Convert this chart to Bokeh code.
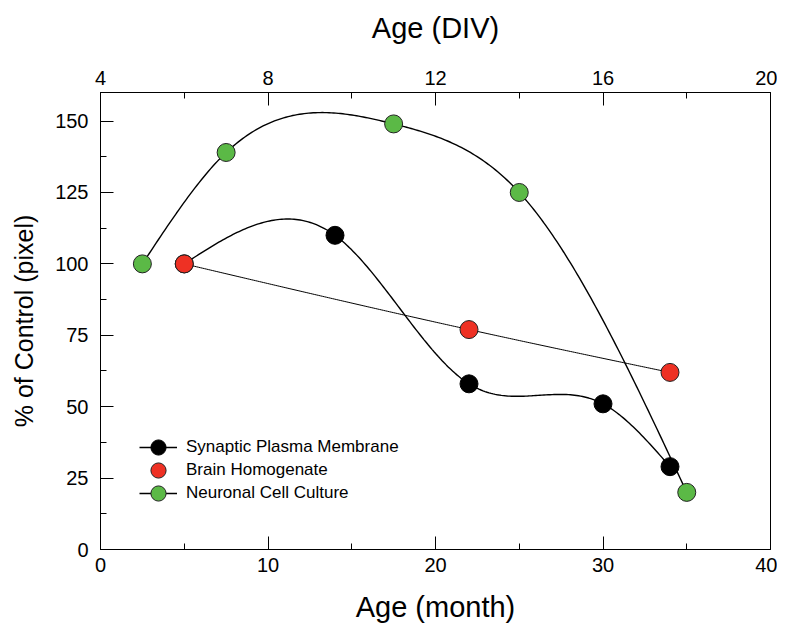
import numpy as np
from bokeh.plotting import figure
from bokeh.models import (Range1d, LinearAxis, SingleIntervalTicker, Legend, LegendItem)
from bokeh.embed import file_html
from bokeh.resources import INLINE

# ---- data ----
spm_month = [5, 14, 22, 30, 34]
spm_value = [100, 110, 58, 51, 29]

bh_month = [5, 22, 34]
bh_value = [100, 77, 62]

ncc_div = [5, 7, 11, 14, 18]
ncc_value = [100, 139, 149, 125, 20]

series_labels = ["Synaptic Plasma Membrane", "Brain Homogenate", "Neuronal Cell Culture"]

FONT = "Liberation Sans"


def natural_spline(xs, ys, n=240):
    x = np.asarray(xs, float)
    y = np.asarray(ys, float)
    k = len(x)
    h = np.diff(x)
    A = np.zeros((k, k))
    b = np.zeros(k)
    A[0, 0] = 1
    A[-1, -1] = 1
    for i in range(1, k - 1):
        A[i, i - 1] = h[i - 1]
        A[i, i] = 2 * (h[i - 1] + h[i])
        A[i, i + 1] = h[i]
        b[i] = 3 * ((y[i + 1] - y[i]) / h[i] - (y[i] - y[i - 1]) / h[i - 1])
    c = np.linalg.solve(A, b)
    xx = np.linspace(x[0], x[-1], n)
    yy = np.empty_like(xx)
    for j, t in enumerate(xx):
        i = min(np.searchsorted(x, t, side="right") - 1, k - 2)
        dx = t - x[i]
        bc = (y[i + 1] - y[i]) / h[i] - h[i] * (2 * c[i] + c[i + 1]) / 3
        d = (c[i + 1] - c[i]) / (3 * h[i])
        yy[j] = y[i] + bc * dx + c[i] * dx ** 2 + d * dx ** 3
    return xx, yy


p = figure(width=777, height=625, x_range=Range1d(0, 40), y_range=Range1d(0, 160),
           output_backend="svg", toolbar_location=None,
           min_border_left=100, min_border_right=7, min_border_top=92, min_border_bottom=75)
p.extra_x_ranges = {"div": Range1d(4, 20)}
p.grid.visible = False
p.outline_line_color = "black"
p.outline_line_width = 1
p.background_fill_color = "white"
p.border_fill_color = "white"

bottom = p.below[0]
left = p.left[0]
bottom.ticker = SingleIntervalTicker(interval=10, num_minor_ticks=2)
left.ticker = SingleIntervalTicker(interval=25, num_minor_ticks=2)
bottom.axis_label = "Age (month)"
left.axis_label = "% of Control (pixel)"
top = LinearAxis(x_range_name="div", ticker=SingleIntervalTicker(interval=4, num_minor_ticks=2),
                 axis_label="Age (DIV)")
p.add_layout(top, "above")

for ax in [bottom, left, top]:
    ax.axis_line_color = "black"
    ax.major_tick_line_color = "black"
    ax.minor_tick_line_color = "black"
    ax.major_tick_in = 13
    ax.major_tick_out = 0
    ax.minor_tick_in = 6
    ax.minor_tick_out = 0
    ax.major_label_text_font = FONT
    ax.major_label_text_font_size = "20px"
    ax.major_label_text_color = "black"
    ax.axis_label_text_font = FONT
    ax.axis_label_text_font_style = "normal"
    ax.axis_label_text_color = "black"

bottom.axis_label_text_font_size = "29px"
top.axis_label_text_font_size = "29px"
left.axis_label_text_font_size = "25px"

bottom.major_label_standoff = 8
bottom.axis_label_standoff = 16
top.major_label_standoff = 8
top.axis_label_standoff = 24
left.major_label_standoff = 12
left.axis_label_standoff = 14

# curves
sx, sy = natural_spline(spm_month, spm_value)
bx, by = natural_spline(bh_month, bh_value)
gx, gy = natural_spline(ncc_div, ncc_value)

l1 = p.line(sx, sy, line_color="black", line_width=1.4)
l2 = p.line(bx, by, line_color="black", line_width=1.0)
l3 = p.line(gx, gy, line_color="black", line_width=1.4, x_range_name="div")
# legend-only line style for the brain homogenate entry (no data)
l2_leg = p.line([], [], line_color="#bdbdbd", line_width=1.2, line_dash="2 2")

m1 = p.scatter(spm_month, spm_value, size=18, fill_color="black", line_color="black")
m2 = p.scatter(bh_month, bh_value, size=18, fill_color="#EE3124", line_color="#222222")
m3 = p.scatter(ncc_div, ncc_value, size=18, fill_color="#5BB946", line_color="#222222",
               x_range_name="div")

entries = [[l1, m1], [l2_leg, m2], [l3, m3]]
for i, (lab, rends) in enumerate(zip(series_labels, entries)):
    lg = Legend(items=[LegendItem(label=lab, renderers=rends)],
                location=(29, 27 + 23 * (2 - i)))
    lg.background_fill_alpha = 0
    lg.border_line_alpha = 0
    lg.label_text_font = FONT
    lg.label_text_font_size = "17px"
    lg.label_text_color = "black"
    lg.glyph_width = 38
    lg.glyph_height = 38
    lg.label_standoff = 9
    p.add_layout(lg, "center")

open("out.html", "w").write(file_html(p, INLINE))
